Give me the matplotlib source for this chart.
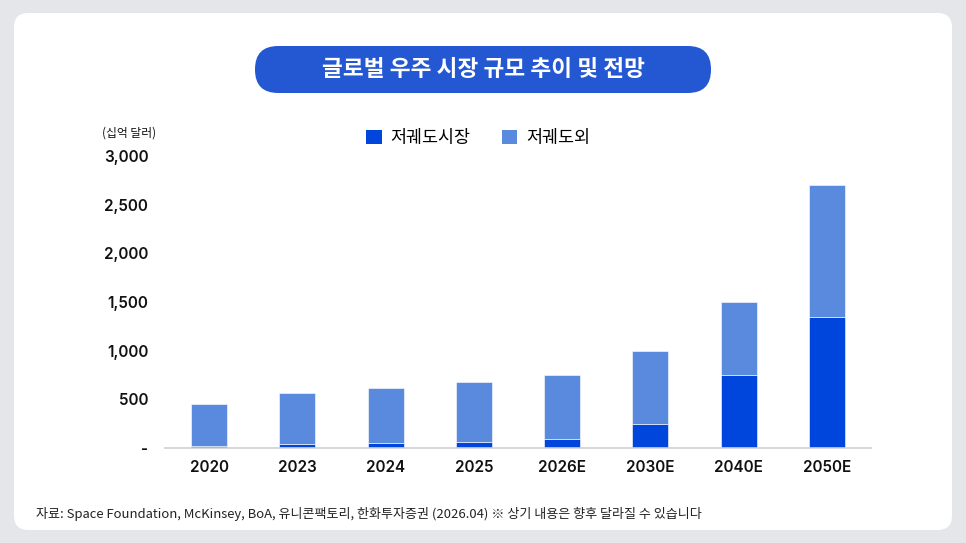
import matplotlib
matplotlib.use("Agg")
import matplotlib.pyplot as plt
from matplotlib.patches import FancyBboxPatch, Patch
import numpy as np

plt.rcParams['font.family'] = ['Noto Sans CJK KR', 'DejaVu Sans']

categories = ["2020", "2023", "2024", "2025", "2026E", "2030E", "2040E", "2050E"]
low_orbit = [20, 40, 50, 60, 90, 250, 750, 1350]
outer_orbit = [430, 522, 563, 621, 660, 750, 750, 1350]
yticks = [0, 500, 1000, 1500, 2000, 2500, 3000]
ytick_labels = ["-", "500", "1,000", "1,500", "2,000", "2,500", "3,000"]

title = "글로벌 우주 시장 규모 추이 및 전망"
legend_labels = ["저궤도시장", "저궤도외"]
unit_label = "(십억 달러)"
source = "자료: Space Foundation, McKinsey, BoA, 유니콘팩토리, 한화투자증권 (2026.04) ※ 상기 내용은 향후 달라질 수 있습니다"

dark = "#0046dc"
light = "#5a8ade"

W, H = 966, 543
fig = plt.figure(figsize=(W / 100, H / 100), dpi=100)
fig.patch.set_facecolor("#e4e6ea")

# white card
card = FancyBboxPatch((14 / W, 13 / H), (952 - 14) / W, (530 - 13) / H,
                      boxstyle="round,pad=0,rounding_size=0.015",
                      transform=fig.transFigure, facecolor="white", edgecolor="none",
                      mutation_aspect=W / H, zorder=-10)
fig.patches.append(card)

# title pill
pill = FancyBboxPatch((255 / W, 1 - 93 / H), (711 - 255) / W, (93 - 46) / H,
                      boxstyle="round,pad=0,rounding_size=0.024",
                      transform=fig.transFigure, facecolor="#2458d3", edgecolor="none",
                      mutation_aspect=W / H, zorder=-5)
fig.patches.append(pill)
fig.text(483 / W, 1 - 70 / H, title, color="white", fontsize=16.3, fontweight="bold",
         ha="center", va="center")

# axes
x0, x1 = 165, 871
y0, y1 = 448, 156
ax = fig.add_axes([x0 / W, 1 - y0 / H, (x1 - x0) / W, (y0 - y1) / H])
ax.patch.set_alpha(0)
x = np.arange(len(categories))
ax.bar(x, low_orbit, width=0.41, color=dark, edgecolor="white", linewidth=0.4, label=legend_labels[0])
ax.bar(x, outer_orbit, bottom=low_orbit, width=0.41, color=light, edgecolor="white", linewidth=0.4,
       label=legend_labels[1])
ax.set_xlim(-0.5, len(categories) - 0.5)
ax.set_ylim(0, 3000)
ax.set_yticks(yticks)
ax.set_yticklabels(ytick_labels)
ax.set_xticks(x)
ax.set_xticklabels(categories)
for s in ["top", "right", "left"]:
    ax.spines[s].set_visible(False)
ax.spines["bottom"].set_color("#d0d0d0")
ax.spines["bottom"].set_linewidth(1.2)
ax.tick_params(axis="both", length=0, labelsize=11, colors="#111111")
ax.tick_params(axis="y", pad=12)
ax.tick_params(axis="x", pad=9)
for lab in ax.get_xticklabels() + ax.get_yticklabels():
    lab.set_family(['Inter', 'Noto Sans CJK KR', 'DejaVu Sans'])
    lab.set_fontweight("semibold")

fig.text(129 / W, 1 - 133 / H, unit_label, fontsize=8.5, ha="center", va="center", color="#111111")

handles = [Patch(facecolor=dark), Patch(facecolor=light)]
fig.legend(handles, legend_labels, loc="center", bbox_to_anchor=(478 / W, 1 - 138 / H),
           ncol=2, frameon=False, fontsize=12.5, handlelength=0.9, handleheight=0.9,
           handletextpad=0.5, columnspacing=1.8)

fig.text(36 / W, 1 - 514 / H, source, fontsize=9.4, ha="left", va="center", color="#222222")

fig.savefig("out.png", dpi=100, facecolor=fig.get_facecolor())
